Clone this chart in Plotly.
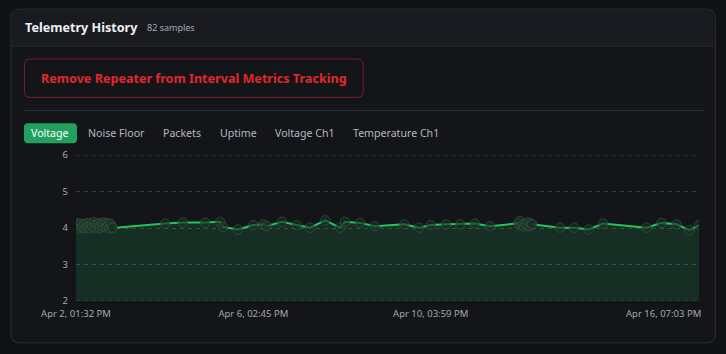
import pandas as pd
import plotly.graph_objects as go

# ---------------- data ----------------
start_time = "2025-04-02 13:32"
sample_hours = [
    0.0, 0.4, 1.0, 1.7, 2.1, 2.8, 3.3, 3.7, 4.4, 4.9, 5.3, 6.0, 6.6, 7.0, 7.5, 8.2, 8.7, 9.1,
    9.8, 10.3, 10.7, 11.4, 11.9, 12.5, 13.0, 13.4, 14.1, 14.6, 15.2, 15.6, 16.3, 16.8, 17.2,
    17.9, 18.4, 18.9, 19.6, 20.1,
    48.8, 58.5, 70.7, 79.0, 80.6, 88.7, 97.2167, 102.7, 104.6, 112.8, 121.0, 128.3, 136.6,
    144.8, 147.5, 155.8, 163.8, 179.9, 188.1, 194.45, 202.8, 210.6, 218.7, 226.9,
    242.6, 243.4, 244.1, 244.9, 245.6, 246.4, 247.1, 247.9, 248.6, 249.4, 250.1,
    265.3, 273.1, 281.0, 289.0, 312.8, 321.0, 329.2, 336.2, 341.5167,
]
voltage = [
    4.10, 4.13, 4.05, 3.98, 4.08, 4.12, 4.02, 4.06, 4.10, 4.00, 4.11, 4.04, 4.14, 4.07, 3.99,
    4.09, 4.12, 4.03, 4.16, 4.08, 4.01, 4.11, 4.06, 4.13, 4.00, 4.07, 4.12, 4.04, 4.15, 4.09,
    4.02, 4.13, 4.06, 4.10, 3.99, 4.12, 4.03, 4.00,
    4.12, 4.15, 4.15, 4.17, 4.03, 3.96, 4.08, 4.10, 4.05, 4.17, 4.08, 4.01, 4.21, 4.01, 4.17,
    4.14, 4.05, 4.10, 4.01, 4.08, 4.10, 4.10, 4.12, 4.05,
    4.13, 4.19, 4.06, 4.10, 4.04, 4.12, 4.08, 4.15, 4.05, 4.12, 4.10,
    4.01, 4.01, 3.96, 4.12, 4.01, 4.14, 4.10, 3.94, 4.08,
]
y_ticks = [2, 3, 4, 5, 6]
x_tick_times = ["2025-04-02 13:32", "2025-04-06 14:45", "2025-04-10 15:59", "2025-04-16 19:03"]
x_tick_labels = ["Apr 2, 01:32 PM", "Apr 6, 02:45 PM", "Apr 10, 03:59 PM", "Apr 16, 07:03 PM"]
tabs = ["Voltage", "Noise Floor", "Packets", "Uptime", "Voltage Ch1", "Temperature Ch1"]
title_text = "Telemetry History"
samples_text = "82 samples"
button_text = "Remove Repeater from Interval Metrics Tracking"

times = pd.Timestamp(start_time) + pd.to_timedelta(sample_hours, unit="h")

# ---------------- geometry helpers ----------------
W, H = 726, 354
ML, MR, MT, MB = 76, 27.3, 154.7, 53
PW = W - ML - MR
PH = H - MT - MB


def X(px):
    return (px - ML) / PW


def Y(py):
    return (H - MB - py) / PH


def rrect(x0, y0, x1, y1, r, top_only=False):
    rb = 0 if top_only else r
    p = f"M {X(x0 + r)} {Y(y0)} L {X(x1 - r)} {Y(y0)} Q {X(x1)} {Y(y0)} {X(x1)} {Y(y0 + r)} "
    p += f"L {X(x1)} {Y(y1 - rb)} Q {X(x1)} {Y(y1)} {X(x1 - rb)} {Y(y1)} "
    p += f"L {X(x0 + rb)} {Y(y1)} Q {X(x0)} {Y(y1)} {X(x0)} {Y(y1 - rb)} "
    p += f"L {X(x0)} {Y(y0 + r)} Q {X(x0)} {Y(y0)} {X(x0 + r)} {Y(y0)} Z"
    return p


PAGE_BG = "#111216"
CARD_BG = "#141519"
HEAD_BG = "#1a1b20"
BORDER = "#2d2f35"
GRID = "#3a3d44"
GREEN = "#22c55e"
TICK = "#a3a8b3"
FONT = "Noto Sans"

fig = go.Figure()

fig.add_trace(go.Scatter(
    x=times, y=voltage, mode="lines", line=dict(width=0, color=GREEN),
    fill="tozeroy", fillcolor="rgba(34,197,94,0.15)", hoverinfo="skip", showlegend=False,
))
fig.add_trace(go.Scatter(
    x=times, y=voltage, mode="lines", line=dict(width=2, color=GREEN), showlegend=False,
))
fig.add_trace(go.Scatter(
    x=times, y=voltage, mode="markers",
    marker=dict(size=9.5, color="rgba(26,46,34,0.62)", line=dict(width=1, color="rgba(60,92,72,0.6)")),
    showlegend=False,
))

shapes = [
    dict(type="path", xref="paper", yref="paper", path=rrect(11, 8.5, 715, 343, 9),
         fillcolor=CARD_BG, line=dict(color=BORDER, width=1), layer="below"),
    dict(type="path", xref="paper", yref="paper", path=rrect(11.5, 9, 714.5, 45, 8.5, top_only=True),
         fillcolor=HEAD_BG, line=dict(width=0), layer="below"),
    dict(type="line", xref="paper", yref="paper", x0=X(11), x1=X(715), y0=Y(45.5), y1=Y(45.5),
         line=dict(color=BORDER, width=1), layer="below"),
    dict(type="path", xref="paper", yref="paper", path=rrect(24.5, 58.5, 363, 97, 6),
         fillcolor="rgba(0,0,0,0)", line=dict(color="#7a1e22", width=1), layer="below"),
    dict(type="line", xref="paper", yref="paper", x0=X(24), x1=X(704), y0=Y(110), y1=Y(110),
         line=dict(color=BORDER, width=1), layer="below"),
    dict(type="path", xref="paper", yref="paper", path=rrect(24, 123, 77, 143, 4),
         fillcolor="#21a05e", line=dict(width=0), layer="below"),
]
# edge gridlines (top and bottom of the value range)
for v in (y_ticks[0], y_ticks[-1]):
    shapes.append(dict(type="line", xref="paper", yref="y", x0=0, x1=1, y0=v, y1=v,
                       line=dict(color=GRID, width=1, dash="4px,4px"), layer="below"))

annotations = [
    dict(text=f"<b>{title_text}</b>", x=X(23), y=Y(27), xref="paper", yref="paper",
         xanchor="left", yanchor="middle", showarrow=False,
         font=dict(family=FONT, size=12.6, color="#eef0f4")),
    dict(text=samples_text, x=X(145), y=Y(27), xref="paper", yref="paper",
         xanchor="left", yanchor="middle", showarrow=False,
         font=dict(family=FONT, size=9, color="#a3a8b3")),
    dict(text=f"<b>{button_text}</b>", x=X(193.5), y=Y(78), xref="paper", yref="paper",
         xanchor="center", yanchor="middle", showarrow=False,
         font=dict(family=FONT, size=12.6, color="#e0282f")),
]

tab_centers = [50.5, 116.5, 182, 238, 305, 396]
for i, (t, cx) in enumerate(zip(tabs, tab_centers)):
    annotations.append(dict(
        text=t, x=X(cx), y=Y(133), xref="paper", yref="paper", xanchor="center", yanchor="middle",
        showarrow=False, font=dict(family=FONT, size=10.6, color="#ffffff" if i == 0 else "#b4b8c0"),
    ))

# last x tick label, kept inside the plot edge
annotations.append(dict(
    text=x_tick_labels[-1], x=x_tick_times[-1], y=0, xref="x", yref="paper",
    xanchor="right", yanchor="top", xshift=4, yshift=-4, showarrow=False,
    font=dict(family=FONT, size=9.5, color=TICK),
))

fig.update_layout(
    width=W, height=H,
    margin=dict(l=ML, r=MR, t=MT, b=MB),
    paper_bgcolor=PAGE_BG, plot_bgcolor=CARD_BG,
    shapes=shapes, annotations=annotations,
    xaxis=dict(
        type="date", range=[x_tick_times[0], x_tick_times[-1]],
        tickvals=x_tick_times[:-1], ticktext=x_tick_labels[:-1],
        showgrid=False, zeroline=False, showline=False, ticks="",
        tickfont=dict(family=FONT, size=9.5, color=TICK), ticklabelstandoff=5,
    ),
    yaxis=dict(
        range=[2, 6], tickvals=y_ticks, ticktext=[str(v) for v in y_ticks],
        showgrid=True, gridcolor=GRID, griddash="4px,4px", gridwidth=1,
        zeroline=False, showline=False, ticks="",
        tickfont=dict(family=FONT, size=9.5, color=TICK), ticklabelstandoff=7,
    ),
    hovermode=False,
)

fig.write_html("out.html")
